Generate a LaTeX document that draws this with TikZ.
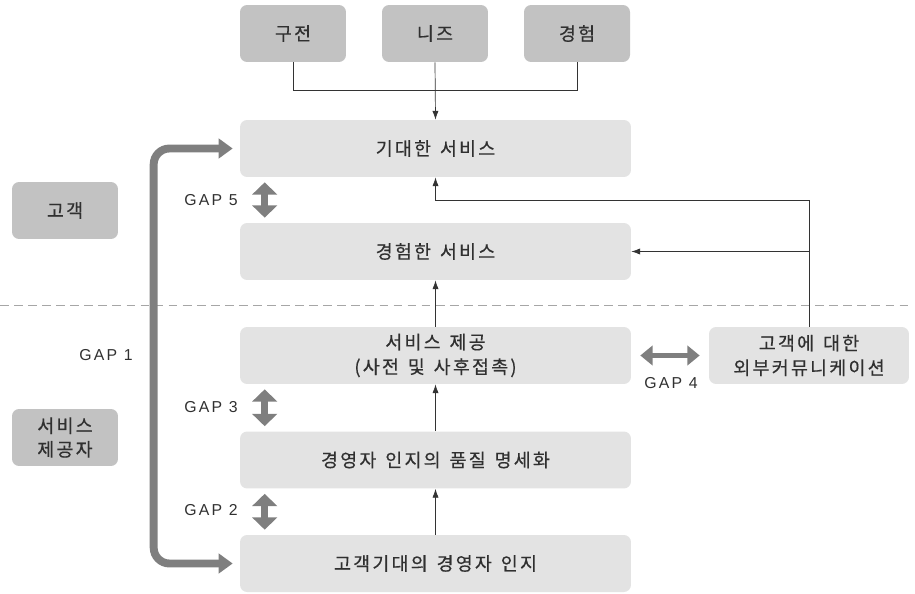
\documentclass[tikz,border=0pt]{standalone}
\usepackage{fontspec}
\setmainfont[LetterSpace=12,WordSpace=1.4,FakeBold=0.4]{Noto Sans CJK KR}
\newfontfamily\gapfont[LetterSpace=14]{Liberation Sans}
\usetikzlibrary{arrows.meta}
\definecolor{boxlight}{HTML}{E3E3E3}
\definecolor{boxdark}{HTML}{C2C2C2}
\definecolor{gapgray}{HTML}{7F7F7F}
\definecolor{txtgray}{HTML}{303030}
\begin{document}
\begin{tikzpicture}[x=0.02cm,y=-0.02cm,
  stage/.style={fill=boxlight,rounded corners=4pt,minimum width=7.82cm,minimum height=1.14cm,align=center,text=txtgray,font=\fontsize{10.5}{14}\selectfont},
  side/.style={fill=boxdark,rounded corners=4pt,minimum width=2.12cm,minimum height=1.14cm,align=center,text=txtgray,font=\fontsize{10.5}{13.5}\selectfont},
  flow/.style={-{Latex[length=5pt,width=3.5pt]},thin,black!80},
  gaparrow/.style={{Triangle[length=7pt,width=14pt]}-{Triangle[length=7pt,width=14pt]},line width=4pt,gapgray},
  gaplabel/.style={text=txtgray,font=\gapfont\fontsize{9}{11}\selectfont}]
\useasboundingbox (0,0) rectangle (915,594);
% top row
\node[side] (wom) at (293,33.5) {구전};
\node[side] (needs) at (435,33.5) {니즈};
\node[side] (pastexp) at (577,33.5) {경험};
\node[side] (customer) at (65,210.5) {고객};
\node[side] (provider) at (65,437.5) {서비스\\제공자};
% service stages
\node[stage] (expected) at (435.5,148.5) {기대한 서비스};
\node[stage] (experienced) at (435.5,251.5) {경험한 서비스};
\node[stage] (delivery) at (435.5,355.5) {서비스 제공\\(사전 및 사후접촉)};
\node[stage] (spec) at (435.5,460) {경영자 인지의 품질 명세화};
\node[stage] (perception) at (435.5,563.5) {고객기대의 경영자 인지};
\node[stage,minimum width=4cm] (extcomm) at (809,355.5) {고객에 대한\\외부커뮤니케이션};
% dividing line
\draw[gray!70,thin,dash pattern=on 5pt off 3pt] (0,305) -- (910,305);
% thin connectors
\coordinate (merge) at (435,90);
\draw[black!80] (wom.south) |- (merge);
\draw[black!80] (pastexp.south) |- (merge);
\draw[flow] (needs.south) -- (expected.north);
\draw[flow] (extcomm.north) |- ([shift={(0,23)}]expected.south) -- (expected.south);
\draw[flow] (extcomm.north |- experienced.east) -- (experienced.east);
\draw[flow] (delivery.north) -- (experienced.south);
\draw[flow] (spec.north) -- (delivery.south);
\draw[flow] (perception.north) -- (spec.south);
% gaps
\draw[gaparrow,line width=4.5pt,{Triangle[length=8pt,width=11pt]}-{Triangle[length=8pt,width=11pt]},rounded corners=9pt] ([xshift=-0.14cm]expected.west) -- ++(-79,0) |- ([xshift=-0.14cm]perception.west);
\draw[gaparrow] ([shift={(25,5)}]expected.south west) -- ([shift={(25,-5)}]experienced.north west);
\draw[gaparrow] ([shift={(25,5)}]delivery.south west) -- ([shift={(25,-5)}]spec.north west);
\draw[gaparrow] ([shift={(25,5)}]spec.south west) -- ([shift={(25,-5)}]perception.north west);
\draw[gaparrow,line width=3pt,{Triangle[length=7pt,width=11pt]}-{Triangle[length=7pt,width=11pt]}] ([xshift=0.18cm]delivery.east) -- ([xshift=-0.18cm]extcomm.west);
\node[gaplabel] (gapone) at (106,355) {GAP 1};
\node[gaplabel] (gaptwo) at (211,510) {GAP 2};
\node[gaplabel] (gapthree) at (211,407) {GAP 3};
\node[gaplabel] (gapfour) at (671,383) {GAP 4};
\node[gaplabel] (gapfive) at (211,200) {GAP 5};
\end{tikzpicture}
\end{document}
